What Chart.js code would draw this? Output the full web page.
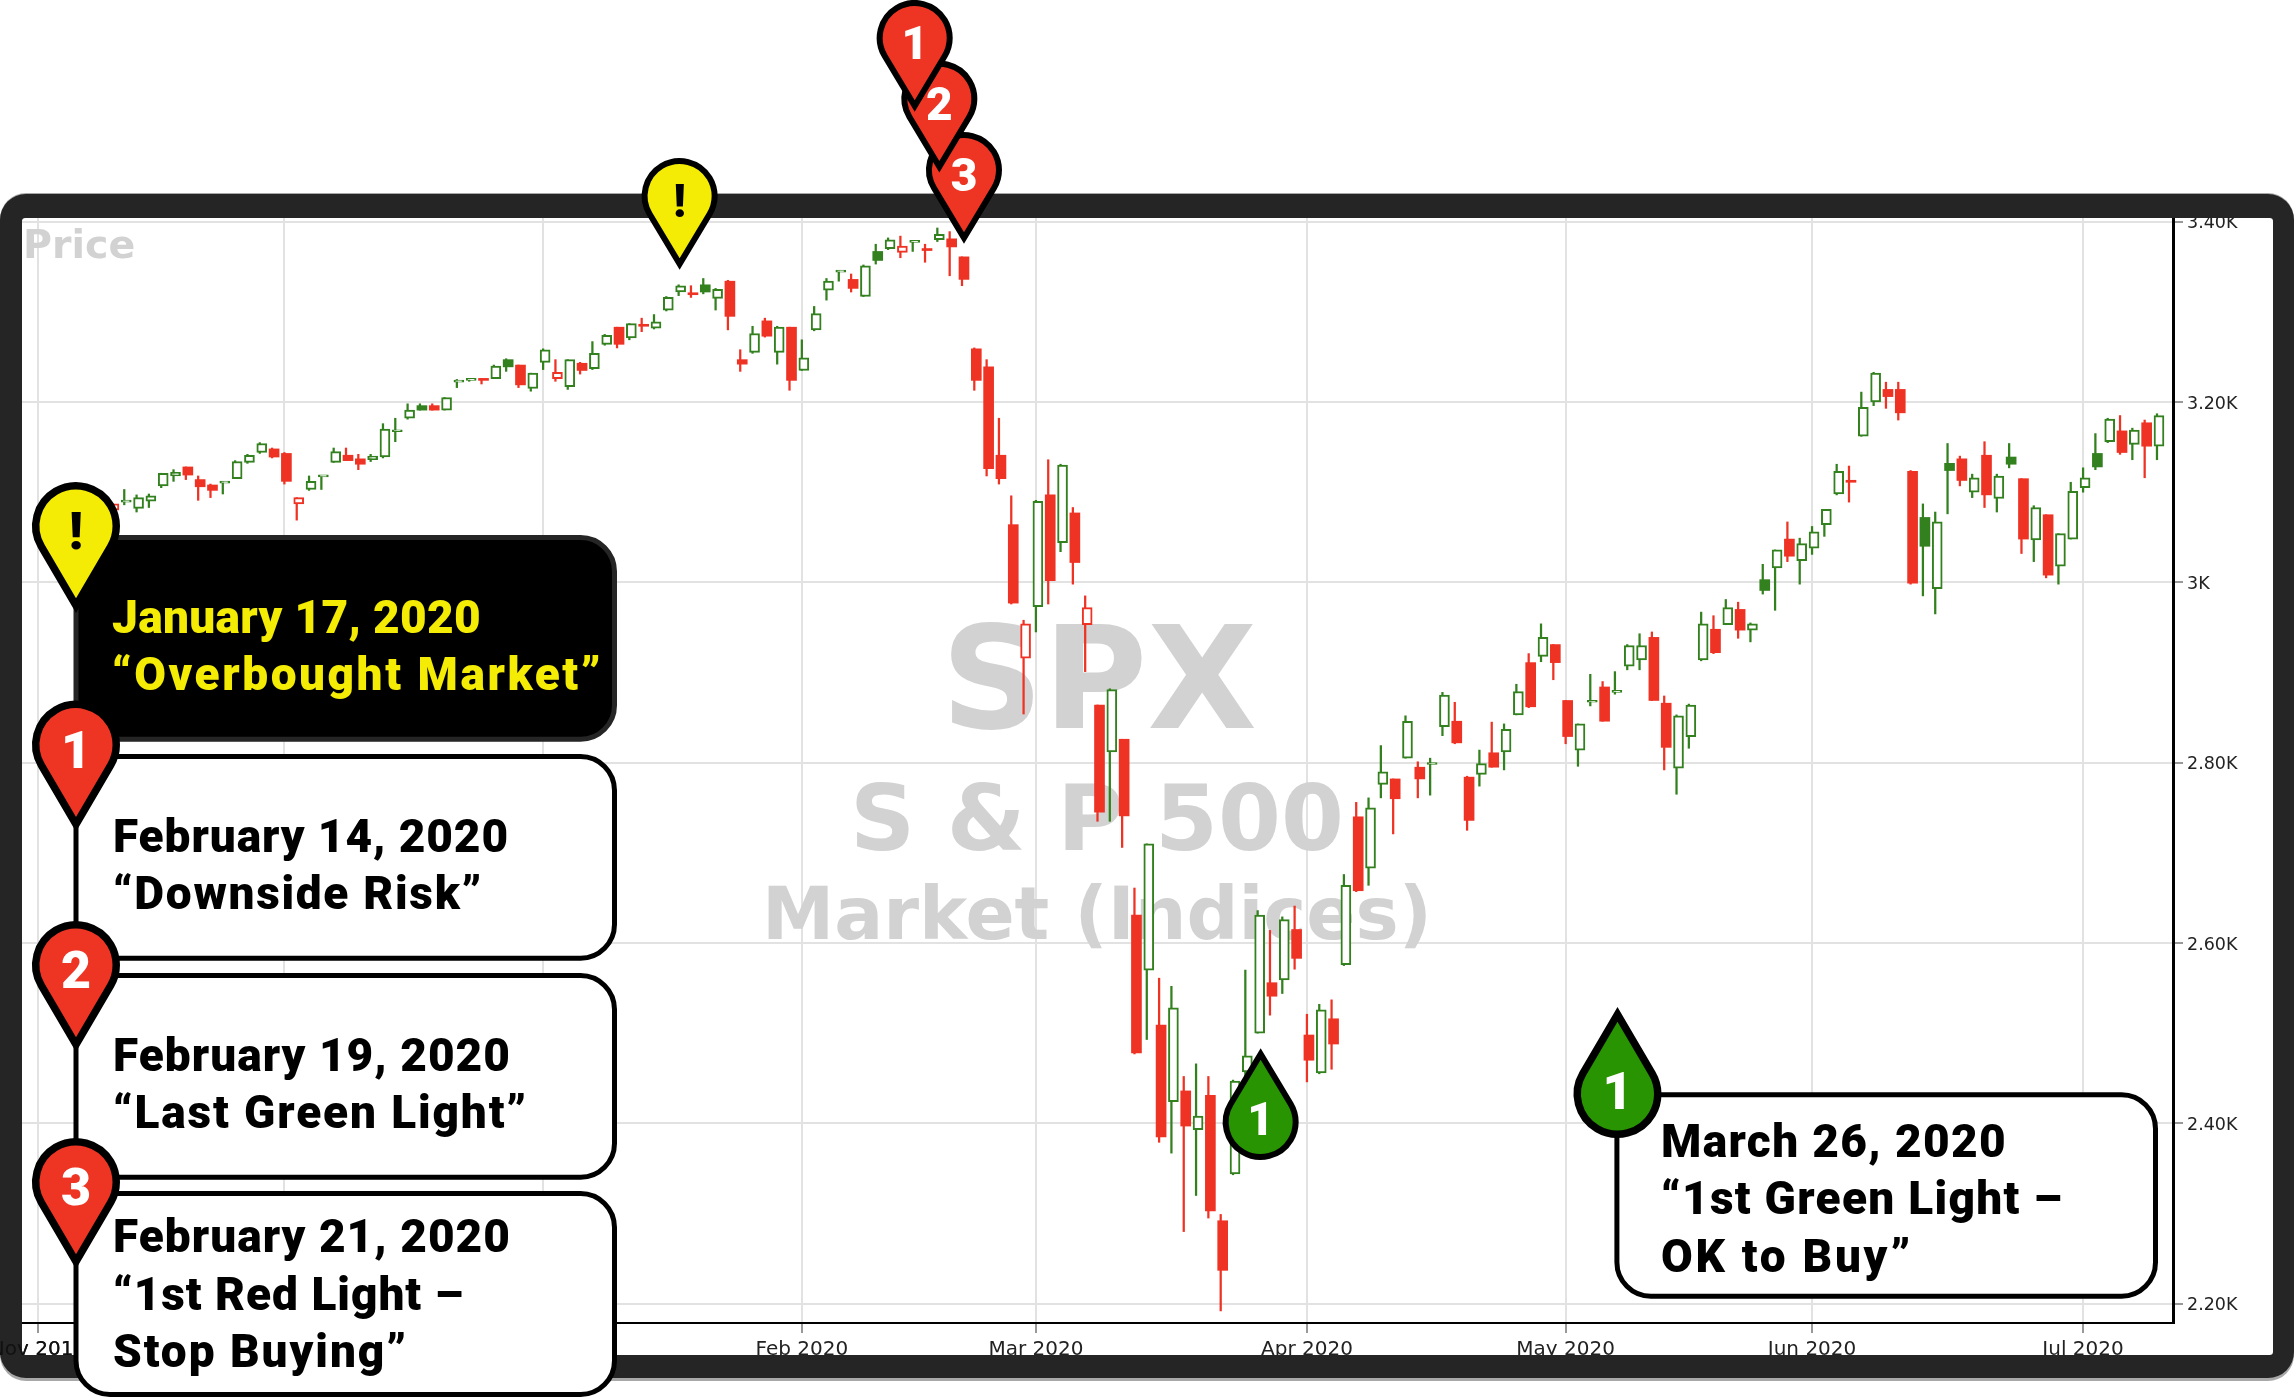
<!DOCTYPE html>
<html>
<head>
<meta charset="utf-8">
<title>SPX</title>
<script src="https://cdn.jsdelivr.net/npm/chart.js@4/dist/chart.umd.min.js"></script>
<style>
html, body { margin: 0; padding: 0; background: #fff; }
canvas { display: block; }
</style>
</head>
<body>
<canvas id="spxChart" width="2294" height="1398"></canvas>
<script>
// Trading days, one row per month
const days = [
    '2019-11-01','2019-11-04','2019-11-05','2019-11-06','2019-11-07','2019-11-08','2019-11-11','2019-11-12','2019-11-13','2019-11-14','2019-11-15','2019-11-18','2019-11-19','2019-11-20','2019-11-21','2019-11-22','2019-11-25','2019-11-26','2019-11-27','2019-11-29',
    '2019-12-02','2019-12-03','2019-12-04','2019-12-05','2019-12-06','2019-12-09','2019-12-10','2019-12-11','2019-12-12','2019-12-13','2019-12-16','2019-12-17','2019-12-18','2019-12-19','2019-12-20','2019-12-23','2019-12-24','2019-12-26','2019-12-27','2019-12-30','2019-12-31',
    '2020-01-02','2020-01-03','2020-01-06','2020-01-07','2020-01-08','2020-01-09','2020-01-10','2020-01-13','2020-01-14','2020-01-15','2020-01-16','2020-01-17','2020-01-21','2020-01-22','2020-01-23','2020-01-24','2020-01-27','2020-01-28','2020-01-29','2020-01-30','2020-01-31',
    '2020-02-03','2020-02-04','2020-02-05','2020-02-06','2020-02-07','2020-02-10','2020-02-11','2020-02-12','2020-02-13','2020-02-14','2020-02-18','2020-02-19','2020-02-20','2020-02-21','2020-02-24','2020-02-25','2020-02-26','2020-02-27','2020-02-28',
    '2020-03-02','2020-03-03','2020-03-04','2020-03-05','2020-03-06','2020-03-09','2020-03-10','2020-03-11','2020-03-12','2020-03-13','2020-03-16','2020-03-17','2020-03-18','2020-03-19','2020-03-20','2020-03-23','2020-03-24','2020-03-25','2020-03-26','2020-03-27','2020-03-30','2020-03-31',
    '2020-04-01','2020-04-02','2020-04-03','2020-04-06','2020-04-07','2020-04-08','2020-04-09','2020-04-13','2020-04-14','2020-04-15','2020-04-16','2020-04-17','2020-04-20','2020-04-21','2020-04-22','2020-04-23','2020-04-24','2020-04-27','2020-04-28','2020-04-29','2020-04-30',
    '2020-05-01','2020-05-04','2020-05-05','2020-05-06','2020-05-07','2020-05-08','2020-05-11','2020-05-12','2020-05-13','2020-05-14','2020-05-15','2020-05-18','2020-05-19','2020-05-20','2020-05-21','2020-05-22','2020-05-26','2020-05-27','2020-05-28','2020-05-29',
    '2020-06-01','2020-06-02','2020-06-03','2020-06-04','2020-06-05','2020-06-08','2020-06-09','2020-06-10','2020-06-11','2020-06-12','2020-06-15','2020-06-16','2020-06-17','2020-06-18','2020-06-19','2020-06-22','2020-06-23','2020-06-24','2020-06-25','2020-06-26','2020-06-29','2020-06-30',
    '2020-07-01','2020-07-02','2020-07-06','2020-07-07','2020-07-08','2020-07-09','2020-07-10'
];

const opens = [
    3051,3078,3080,3075,3087,3081,3080,3089,3082,3090,3107,3118,3128,3114,3108,3110,3115,3133,3144,3148,
    3143,3087,3103,3117,3133,3141,3137,3136,3139,3167,3182,3196,3196,3191,3222,3224,3225,3226,3247,3241,3215,
    3244,3226,3217,3243,3237,3264,3283,3271,3285,3282,3302,3322,3320,3330,3315,3334,3247,3255,3290,3255,3283,
    3235,3280,3324,3344,3336,3317,3367,3370,3366,3377,3369,3380,3381,3361,3259,3239,3141,3064,2916,
    2973,3097,3044,3077,2953,2864,2812,2826,2631,2570,2509,2424,2436,2393,2431,2292,2344,2457,2500,2556,2559,2615,
    2498,2456,2516,2576,2740,2683,2776,2782,2805,2795,2798,2840,2846,2784,2787,2811,2812,2853,2911,2918,2931,
    2869,2814,2867,2884,2878,2907,2914,2939,2866,2794,2829,2914,2948,2953,2970,2947,3003,3016,3048,3024,
    3038,3064,3098,3112,3162,3200,3214,3214,3123,3072,2993,3132,3137,3100,3141,3093,3139,3115,3047,3075,3018,3048,
    3105,3143,3156,3168,3153,3177,3151
];

const highs = [
    3067,3085,3083,3079,3098,3094,3088,3103,3097,3098,3121,3125,3128,3118,3109,3112,3135,3142,3155,3149,
    3144,3094,3118,3118,3149,3149,3142,3142,3176,3182,3198,3198,3198,3205,3225,3226,3226,3241,3248,3241,3232,
    3259,3247,3247,3244,3267,3275,3283,3287,3293,3297,3317,3330,3329,3337,3326,3335,3258,3284,3293,3284,3283,
    3269,3306,3337,3346,3342,3352,3375,3382,3384,3378,3375,3393,3389,3361,3260,3247,3182,3096,2958,
    3091,3136,3131,3083,2985,2864,2882,2826,2661,2710,2561,2552,2452,2466,2452,2299,2448,2570,2636,2614,2629,2641,
    2521,2532,2537,2676,2756,2761,2819,2782,2852,2801,2805,2878,2867,2785,2814,2845,2843,2887,2921,2954,2931,
    2869,2843,2898,2890,2901,2931,2943,2945,2874,2853,2865,2967,2963,2981,2978,2955,3020,3036,3067,3049,
    3062,3081,3131,3129,3211,3233,3222,3222,3124,3087,3078,3154,3140,3120,3156,3120,3154,3115,3085,3075,3054,3111,
    3127,3165,3182,3185,3171,3180,3187
];

const lows = [
    3051,3074,3072,3065,3080,3073,3075,3086,3078,3083,3105,3112,3114,3091,3094,3098,3115,3132,3143,3138,
    3109,3069,3102,3103,3133,3135,3125,3134,3138,3156,3181,3191,3191,3191,3216,3223,3220,3226,3234,3216,3212,
    3236,3223,3214,3231,3236,3263,3260,3269,3278,3281,3301,3318,3316,3320,3302,3280,3234,3254,3272,3242,3213,
    3235,3279,3313,3334,3322,3317,3353,3369,3360,3367,3355,3378,3340,3329,3213,3118,3109,2976,2854,
    2945,2976,3034,2998,2901,2735,2735,2706,2477,2493,2379,2367,2280,2320,2295,2192,2343,2408,2500,2520,2544,2571,
    2446,2455,2460,2575,2657,2664,2761,2721,2805,2761,2764,2830,2821,2725,2774,2795,2792,2853,2861,2912,2892,
    2821,2796,2863,2846,2876,2903,2903,2869,2792,2765,2816,2913,2921,2953,2938,2934,2987,2969,3023,2998,
    3031,3051,3097,3089,3162,3196,3193,3180,2998,2985,2965,3076,3107,3094,3083,3078,3127,3032,3023,3005,2998,3048,
    3100,3125,3155,3142,3136,3116,3136
];

const closes = [
    3067,3078,3075,3076,3085,3093,3087,3091,3094,3096,3121,3122,3119,3106,3102,3111,3134,3141,3154,3139,
    3112,3094,3112,3118,3145,3135,3131,3140,3170,3168,3191,3191,3191,3205,3223,3225,3224,3240,3239,3219,3232,
    3258,3233,3247,3235,3254,3274,3264,3287,3284,3289,3316,3329,3319,3322,3325,3295,3242,3276,3273,3283,3224,
    3249,3298,3334,3345,3326,3351,3357,3380,3373,3378,3368,3386,3372,3336,3224,3126,3115,2977,2954,
    3090,3002,3130,3022,2972,2745,2881,2741,2478,2710,2385,2528,2397,2408,2303,2237,2447,2475,2631,2541,2626,2583,
    2470,2526,2488,2664,2658,2750,2790,2760,2846,2782,2799,2875,2822,2736,2799,2795,2837,2879,2862,2939,2911,
    2829,2843,2868,2846,2879,2930,2930,2869,2817,2852,2864,2954,2922,2972,2947,2954,2991,3036,3029,3043,
    3056,3081,3123,3111,3194,3232,3206,3188,2999,3040,3067,3124,3113,3116,3097,3118,3131,3048,3083,3008,3054,3101,
    3116,3128,3181,3144,3169,3151,3185
];

// 1 = the day closed above the previous close, 0 = below
const closeUp = [
    1,1,0,1,1,1,0,1,1,1,1,1,0,0,0,1,1,1,1,0,
    0,0,1,1,1,0,0,1,1,1,1,1,0,1,1,1,0,1,1,0,1,
    1,0,1,0,1,1,0,1,0,1,1,1,0,1,1,0,0,1,0,1,0,
    1,1,1,1,0,1,1,1,0,1,0,1,0,0,0,0,0,0,0,
    1,0,1,0,0,0,1,0,0,1,0,1,0,1,0,0,1,1,1,0,1,0,
    0,1,0,1,0,1,1,0,1,0,1,1,0,0,1,0,1,1,0,1,0,
    0,1,1,0,1,1,1,0,0,1,1,1,0,1,0,1,1,1,0,1,
    1,1,1,0,1,1,0,0,0,1,1,1,0,1,0,1,1,0,1,0,1,1,
    1,1,1,0,1,0,1
];

const yTicks = [2200, 2400, 2600, 2800, 3000, 3200, 3400];
const yTickLabels = ['2.20K', '2.40K', '2.60K', '2.80K', '3K', '3.20K', '3.40K'];
const monthNames = ['Jan', 'Feb', 'Mar', 'Apr', 'May', 'Jun', 'Jul', 'Aug', 'Sep', 'Oct', 'Nov', 'Dec'];

const watermarks = ['SPX', 'S & P 500', 'Market (Indices)'];
const noteJan = ['January 17, 2020', '“Overbought Market”'];
const noteFeb14 = ['February 14, 2020', '“Downside Risk”'];
const noteFeb19 = ['February 19, 2020', '“Last Green Light”'];
const noteFeb21 = ['February 21, 2020', '“1st Red Light –', 'Stop Buying”'];
const noteMar26 = ['March 26, 2020', '“1st Green Light –', 'OK to Buy”'];

const RED = '#ee3224';
const GREEN = '#33801f';
const PIN_RED = '#ee3524';
const PIN_YELLOW = '#f4ec04';
const PIN_GREEN = '#289402';
const GREY_TEXT = '#d2d2d2';
const NOTE_FONT = '900 46px Roboto';

// Month ticks fall on the first trading day of each month
const monthStarts = days.map((d, i) => i).filter(i => i === 0 || days[i].slice(0, 7) !== days[i - 1].slice(0, 7));

function monthLabel(i) {
    const parts = days[i].split('-');
    return monthNames[parseInt(parts[1]) - 1] + ' ' + parts[0];
}

const candleColor = days.map((d, i) => closeUp[i] ? GREEN : RED);
const candleHollow = days.map((d, i) => closes[i] > opens[i]);

function dayOf(date) {
    return days.indexOf(date);
}

function pinPath(ctx, r, d) {
    const a = Math.acos(r / d);
    ctx.beginPath();
    ctx.arc(0, 0, r, Math.PI / 2 + a, Math.PI * 2.5 - a);
    ctx.lineTo(0, d);
    ctx.closePath();
}

// big: pin beside a note box, otherwise a pin on the candles
function drawPin(ctx, cx, cy, fill, glyph, big, flip) {
    const r = big ? 40.25 : 35;
    const d = big ? 79.6 : 68;
    ctx.save();
    ctx.translate(cx, cy);
    ctx.save();
    if (flip) ctx.scale(1, -1);
    pinPath(ctx, r, d);
    ctx.restore();
    ctx.fillStyle = fill;
    ctx.strokeStyle = '#000';
    ctx.lineWidth = big ? 7.5 : 6;
    ctx.lineJoin = 'miter';
    ctx.miterLimit = 10;
    ctx.fill();
    ctx.stroke();
    const size = big ? 52 : 46;
    const capHeight = size * 0.71;
    const shift = flip ? -3 : 5;
    ctx.fillStyle = glyph === '!' ? '#000' : '#fff';
    ctx.font = '900 ' + size + 'px Roboto';
    ctx.textAlign = 'center';
    ctx.textBaseline = 'alphabetic';
    ctx.fillText(glyph, 0, shift + capHeight / 2);
    ctx.restore();
}

// widths: how wide each line runs in the reference, reached by letter spacing
function drawNote(ctx, box, lines, widths, textX, firstBaseline, dark) {
    ctx.beginPath();
    ctx.roundRect(box[0] + 2.5, box[1] + 2.5, box[2] - box[0] - 5, box[3] - box[1] - 5, 34);
    ctx.fillStyle = dark ? '#000' : '#fff';
    ctx.strokeStyle = dark ? '#252525' : '#000';
    ctx.lineWidth = 5;
    ctx.fill();
    ctx.stroke();
    ctx.fillStyle = dark ? PIN_YELLOW : '#000';
    ctx.font = NOTE_FONT;
    ctx.textAlign = 'left';
    ctx.textBaseline = 'alphabetic';
    lines.forEach((line, i) => {
        ctx.letterSpacing = '0px';
        const spare = widths[i] - ctx.measureText(line).width;
        ctx.letterSpacing = (spare / line.length) + 'px';
        ctx.fillText(line, textX, firstBaseline + i * 57.5);
    });
    ctx.letterSpacing = '0px';
}

const decorPlugin = {
    id: 'decor',
    // Watermark text sits under the candles
    beforeDatasetsDraw(chart) {
        const ctx = chart.ctx;
        ctx.save();
        ctx.fillStyle = GREY_TEXT;
        ctx.textBaseline = 'alphabetic';
        ctx.textAlign = 'center';
        ctx.font = 'bold 142px "DejaVu Sans"';
        ctx.fillText(watermarks[0], 1099, 728);
        ctx.font = 'bold 90.5px "DejaVu Sans"';
        ctx.fillText(watermarks[1], 1097, 850);
        ctx.font = 'bold 72.6px "DejaVu Sans"';
        ctx.fillText(watermarks[2], 1097, 939);
        ctx.textAlign = 'left';
        ctx.font = 'bold 39.5px "DejaVu Sans"';
        ctx.fillText('Price', 23, 257.7);
        ctx.restore();
    },
    // The body is drawn a little right of its wick
    beforeDatasetDraw(chart, args) {
        if (args.index === 0) {
            chart.ctx.save();
            chart.ctx.translate(2, 0);
        }
    },
    afterDatasetDraw(chart, args) {
        if (args.index === 0) chart.ctx.restore();
    },
    afterDraw(chart) {
        const ctx = chart.ctx;
        const x = chart.scales.x;
        ctx.save();

        // Outer frame
        ctx.beginPath();
        ctx.roundRect(0, 193, 2294, 1188, 26);
        ctx.roundRect(22, 218, 2251, 1137, 3);
        ctx.fillStyle = '#a8a8a8';
        ctx.fill('evenodd');
        ctx.beginPath();
        ctx.roundRect(0, 194, 2294, 1184, 26);
        ctx.roundRect(22, 218, 2251, 1137, 3);
        ctx.fillStyle = '#252525';
        ctx.fill('evenodd');

        // The first month label runs over the frame's left side
        ctx.save();
        ctx.beginPath();
        ctx.rect(0, 1330, 74, 25);
        ctx.clip();
        ctx.fillStyle = '#111';
        ctx.font = '20px "DejaVu Sans"';
        ctx.textAlign = 'center';
        ctx.textBaseline = 'alphabetic';
        ctx.fillText(monthLabel(0), x.getPixelForValue(0), 1354.5);
        ctx.restore();

        // Pins on the candles, the later ones underneath
        drawPin(ctx, x.getPixelForValue(dayOf('2020-01-17')) + 1, 196, PIN_YELLOW, '!', false, false);
        drawPin(ctx, x.getPixelForValue(dayOf('2020-02-21')) + 2, 170, PIN_RED, '3', false, false);
        drawPin(ctx, x.getPixelForValue(dayOf('2020-02-19')) + 2, 98.7, PIN_RED, '2', false, false);
        drawPin(ctx, x.getPixelForValue(dayOf('2020-02-14')) + 2, 38, PIN_RED, '1', false, false);
        drawPin(ctx, x.getPixelForValue(dayOf('2020-03-26')) + 3, 1122, PIN_GREEN, '1', false, true);

        // Note boxes
        drawNote(ctx, [73.5, 535, 617, 741.7], noteJan, [369, 491], 112, 632.7, true);
        drawNote(ctx, [73.5, 754, 617, 960.7], noteFeb14, [396, 370], 113, 851.7, false);
        drawNote(ctx, [73.5, 973, 617, 1179.7], noteFeb19, [398, 415], 113, 1070.7, false);
        drawNote(ctx, [73.5, 1191, 617, 1397], noteFeb21, [398, 351, 295], 113, 1252, false);
        drawNote(ctx, [1614.4, 1092.3, 2158, 1298.7], noteMar26, [346, 402, 252], 1661, 1156.7, false);

        drawPin(ctx, 76, 526, PIN_YELLOW, '!', true, false);
        drawPin(ctx, 76, 744.7, PIN_RED, '1', true, false);
        drawPin(ctx, 76, 965, PIN_RED, '2', true, false);
        drawPin(ctx, 76, 1182, PIN_RED, '3', true, false);
        drawPin(ctx, 1617.5, 1094, PIN_GREEN, '1', true, true);

        ctx.restore();
    }
};

const priceChart = new Chart(document.getElementById('spxChart').getContext('2d'), {
    type: 'bar',
    data: {
        datasets: [
            {
                label: 'Body',
                data: days.map((d, i) => ({ x: i, y: [opens[i], closes[i]] })),
                backgroundColor: days.map((d, i) => candleHollow[i] ? '#fff' : candleColor[i]),
                borderColor: candleColor,
                borderWidth: days.map((d, i) => candleHollow[i] ? 2 : 0),
                borderSkipped: false,
                barThickness: 10,
                minBarLength: 2,
                grouped: false,
                order: 1
            },
            {
                label: 'Wick',
                data: days.map((d, i) => ({ x: i, y: [lows[i], highs[i]] })),
                backgroundColor: candleColor,
                barThickness: 1.6,
                grouped: false,
                order: 2
            }
        ]
    },
    options: {
        responsive: false,
        animation: false,
        layout: { padding: { left: 22, top: 217, right: 0, bottom: 0 } },
        plugins: {
            legend: { display: false },
            tooltip: { enabled: false }
        },
        scales: {
            x: {
                type: 'linear',
                offset: false,
                min: -1.3,
                max: 173.3,
                grid: { offset: false, color: '#e2e2e2', lineWidth: 2, tickColor: '#999', tickLength: 10, tickWidth: 2 },
                border: { color: '#000', width: 2 },
                ticks: {
                    autoSkip: false,
                    maxRotation: 0,
                    padding: 4.5,
                    color: '#222',
                    font: { family: 'DejaVu Sans', size: 20 },
                    callback: value => monthLabel(value)
                },
                afterBuildTicks(scale) {
                    scale.ticks = monthStarts.map(i => ({ value: i }));
                },
                afterFit(scale) {
                    scale.height = 75;
                    scale.paddingLeft = 0;
                    scale.paddingRight = 0;
                }
            },
            y: {
                position: 'right',
                min: 2178.6,
                max: 3405.2,
                grid: { color: '#e2e2e2', lineWidth: 2, tickColor: '#999', tickLength: 10, tickWidth: 2 },
                border: { color: '#000', width: 3 },
                ticks: {
                    padding: 4,
                    labelOffset: 2,
                    color: '#222',
                    font: { family: 'DejaVu Sans', size: 17.5 },
                    callback: value => yTickLabels[yTicks.indexOf(value)]
                },
                afterBuildTicks(scale) {
                    scale.ticks = yTicks.map(v => ({ value: v }));
                },
                afterFit(scale) {
                    scale.width = 121;
                    scale.paddingTop = 0;
                    scale.paddingBottom = 0;
                }
            }
        }
    },
    plugins: [decorPlugin]
});
</script>
</body>
</html>
